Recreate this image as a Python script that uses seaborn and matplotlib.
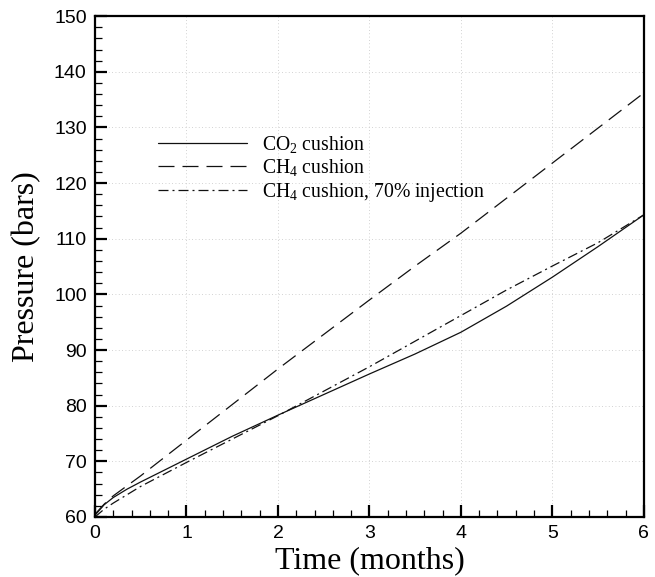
import pandas as pd
import matplotlib.pyplot as plt
from matplotlib.ticker import MultipleLocator
import seaborn as sns

sns.set_theme(style="ticks")
plt.rcParams['font.family'] = ['Liberation Serif', 'DejaVu Serif']
plt.rcParams['mathtext.fontset'] = 'custom'
plt.rcParams['mathtext.rm'] = 'Liberation Serif'
plt.rcParams['mathtext.it'] = 'Liberation Serif:italic'
plt.rcParams['text.color'] = 'black'
plt.rcParams['axes.labelcolor'] = 'black'
plt.rcParams['xtick.color'] = 'black'
plt.rcParams['ytick.color'] = 'black'

time = [0, 0.1, 0.2, 0.35, 0.5, 1, 1.5, 2, 2.5, 3, 3.5, 4, 4.5, 5, 5.5, 6]
co2_cushion = [60.3, 62.2, 63.5, 65.0, 66.3, 70.4, 74.5, 78.3, 82.0, 85.7,
               89.3, 93.2, 97.9, 103.1, 108.6, 114.3]
ch4_cushion = [60.5, 62.3, 63.8, 65.6, 67.4, 73.8, 80.2, 86.6, 92.8, 99.0,
               105.1, 111.0, 117.3, 123.6, 129.9, 136.2]
ch4_70 = [60.0, 61.4, 62.5, 64.0, 65.5, 69.8, 74.0, 78.2, 82.6, 87.0,
          91.6, 96.2, 100.8, 105.1, 109.3, 114.3]

labels = ['CO$_2$ cushion', 'CH$_4$ cushion', 'CH$_4$ cushion, 70% injection']
styles = ['-', (0, (12.8, 6.4)), (0, (8, 3.2, 1.6, 3.2))]
series = [co2_cushion, ch4_cushion, ch4_70]

fig = plt.figure(figsize=(6.55, 5.77), dpi=100)
ax = fig.add_axes([0.145, 0.104, 0.838, 0.868])

for vals, lab, ls in zip(series, labels, styles):
    df = pd.DataFrame({'time': time, 'pressure': vals})
    sns.lineplot(data=df, x='time', y='pressure', ax=ax, color='#111111',
                 linewidth=0.9, linestyle=ls, label=lab)

ax.set_xlim(0, 6)
ax.set_ylim(60, 150)
ax.xaxis.set_major_locator(MultipleLocator(1))
ax.xaxis.set_minor_locator(MultipleLocator(0.2))
ax.yaxis.set_major_locator(MultipleLocator(10))
ax.yaxis.set_minor_locator(MultipleLocator(2))

ax.grid(True, which='major', linestyle=(0, (1, 3)), color='#c4c4c4', linewidth=0.6)
ax.set_axisbelow(True)

for sp in ax.spines.values():
    sp.set_linewidth(1.6)
    sp.set_color('black')

ax.tick_params(which='major', direction='in', length=8.6, width=1.6, color='black',
               labelcolor='black', pad=6, labelsize=14)
ax.tick_params(which='minor', direction='in', length=5, width=0.9, color='black')
for lbl in ax.get_xticklabels() + ax.get_yticklabels():
    lbl.set_family('Liberation Sans')

ax.set_xlabel('Time (months)', fontsize=23, labelpad=3, color='black')
ax.set_ylabel('Pressure (bars)', fontsize=23, labelpad=9, color='black')

leg = ax.legend(loc='upper left', bbox_to_anchor=(0.115, 0.765), frameon=False,
                fontsize=14.2, handlelength=4.5, handletextpad=0.75,
                labelspacing=0.12, borderpad=0, borderaxespad=0)
for t in leg.get_texts():
    t.set_color('black')

plt.savefig("out.png", dpi=100)
